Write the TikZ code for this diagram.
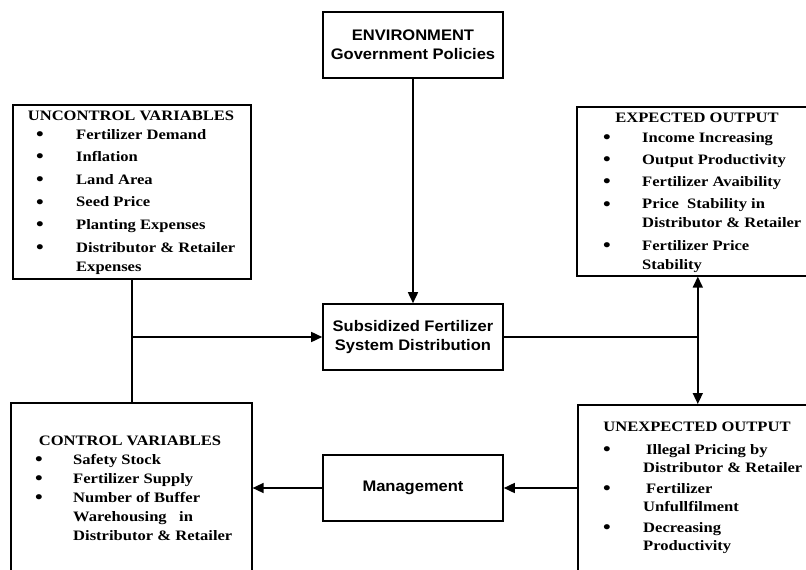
\documentclass[tikz,border=0pt]{standalone}
\usepackage{fontspec}
\setmainfont{Liberation Serif}[FakeStretch=1.15]
\newfontfamily\boxsans{Liberation Sans}[FakeStretch=1.08]
\usetikzlibrary{arrows.meta}
\newcommand{\bul}{\raisebox{-1.3pt}{\fontsize{19}{19}\selectfont\textbullet}}

\begin{document}
\begin{tikzpicture}[x=1pt,y=-1pt,
  every node/.style={font=\fontsize{14.4}{19}\selectfont\bfseries},
  box/.style={draw,line width=1.6pt,inner sep=0pt,anchor=north west},
  hd/.style={anchor=base,inner sep=0pt},
  lst/.style={anchor=base west,inner sep=0pt},
  sbox/.style={draw,line width=1.6pt,minimum width=180pt,minimum height=66pt,
    align=center,font=\boxsans\fontsize{15.3}{19}\selectfont\bfseries},
  ln/.style={line width=1.6pt},
  arr/.style={ln,-{Triangle[length=11pt,width=10pt]}},
  dbl/.style={ln,{Triangle[length=11pt,width=10pt]}-{Triangle[length=11pt,width=10pt]}}]
 \useasboundingbox (0,0) rectangle (806,570);
 \clip (0,0) rectangle (806,570);
 % centre column
 \node[sbox] (env) at (413,45) {ENVIRONMENT\\Government Policies};
 \node[sbox] (sfs) at (413,337) {Subsidized Fertilizer\\System Distribution};
 \node[sbox] (mgmt) at (413,488) {Management};
 % uncontrol variables
 \node[box,minimum width=238pt,minimum height=174pt] (unc) at (12,104) {};
 \node[hd] (unct) at (131,120) {UNCONTROL VARIABLES};
 \node[lst] (uncl) at (36,139) {\begin{tabular}[t]{@{}p{40pt}@{}l@{}}
   \bul & Fertilizer Demand\\[3.6pt]
   \bul & Inflation\\[3.6pt]
   \bul & Land Area\\[3.6pt]
   \bul & Seed Price\\[3.6pt]
   \bul & Planting Expenses\\[3.6pt]
   \bul & Distributor \& Retailer\\
        & Expenses
 \end{tabular}};
 % expected output
 \node[box,minimum width=242pt,minimum height=169pt] (exp) at (576,106) {};
 \node[hd] (expt) at (697,122) {EXPECTED OUTPUT};
 \node[lst] (expl) at (603,142) {\begin{tabular}[t]{@{}p{39pt}@{}l@{}}
   \bul & Income Increasing\\[3.3pt]
   \bul & Output Productivity\\[3.3pt]
   \bul & Fertilizer Avaibility\\[3.3pt]
   \bul & Price\ \ Stability in\\
        & Distributor \& Retailer\\[3.3pt]
   \bul & Fertilizer Price\\
        & Stability
 \end{tabular}};
 % control variables
 \node[box,minimum width=241pt,minimum height=190pt] (ctl) at (10,402) {};
 \node[hd] (ctlt) at (130,445) {CONTROL VARIABLES};
 \node[lst] (ctll) at (35,464) {\begin{tabular}[t]{@{}p{38pt}@{}l@{}}
   \bul & Safety Stock\\
   \bul & Fertilizer Supply\\
   \bul & Number of Buffer\\
        & Warehousing\ \ \ in\\
        & Distributor \& Retailer
 \end{tabular}};
 % unexpected output
 \node[box,minimum width=240pt,minimum height=190pt] (unx) at (577,404) {};
 \node[hd] (unxt) at (697,431) {UNEXPECTED OUTPUT};
 \node[lst] (unxl) at (603,454) {\fontsize{14.4}{18}\selectfont
  \begin{tabular}[t]{@{}p{40pt}@{}l@{}}
   \bul & \hspace{3pt}Illegal Pricing by\\
        & Distributor \& Retailer\\[3pt]
   \bul & \hspace{3pt}Fertilizer\\
        & Unfullfilment\\[3pt]
   \bul & Decreasing\\
        & Productivity
 \end{tabular}};
 % connectors
 \draw[arr] (env) -- (sfs);
 \draw[ln] (unc.south) -- (unc.south |- ctl.north);
 \draw[arr] (unc.south |- sfs.west) -- (sfs.west);
 \draw[ln] (sfs.east) -- (sfs.east -| exp.south);
 \draw[dbl] (exp.south) -- (unx.north);
 \draw[arr] (unx.west |- mgmt.east) -- (mgmt.east);
 \draw[arr] (mgmt.west) -- (mgmt.west -| ctl.east);
\end{tikzpicture}
\end{document}
